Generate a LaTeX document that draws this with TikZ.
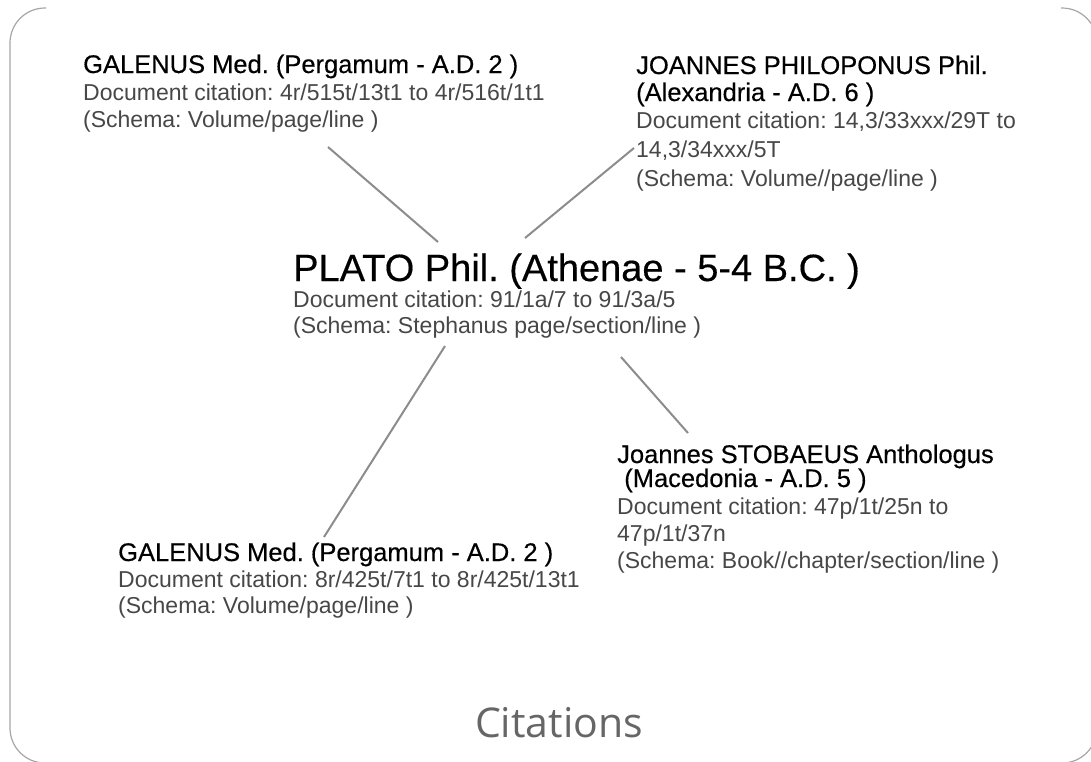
\documentclass[tikz,border=0pt]{standalone}
\usepackage{fontspec}
\setmainfont{Liberation Sans}
\newfontfamily\headfont{Liberation Sans}[FakeBold=0.4]
\newfontfamily\titlefont{Open Sans}
\frenchspacing

\newcommand{\bodysize}{\fontsize{23}{27}\selectfont\lineskiplimit=-100pt}
\newcommand{\headsize}{\headfont\fontsize{25.5}{27}\selectfont\color{black}}
\newcommand{\platosize}{\headfont\fontsize{38}{27}\selectfont\color{black}}

\begin{document}
\begin{tikzpicture}[x=1pt,y=-1pt,
		entry/.style={anchor=base west, align=left, inner sep=0pt, text=black!72, font=\bodysize},
		link/.style={draw=black!45, line width=2pt}]
				\useasboundingbox (0,0) rectangle (1091,761);
				\draw[black!35, line width=1.2pt, rounded corners=35] (46,8) -- (10,8) -- (10,763) -- (1097,763) -- (1097,8) -- (1061,8);

				% base west is the baseline of the last line
				\node[entry] (plato) at (293,333) {{\platosize PLATO Phil. (Athenae - 5-4 B.C. )}\\[-1pt]
					Document citation: 91/1a/7 to 91/3a/5\\[-1pt]
					(Schema: Stephanus page/section/line )};
				\node[entry] (galenA) at ([shift={(-210,-206)}]plato.base west) {{\headsize GALENUS Med. (Pergamum - A.D. 2 )}\\
					Document citation: 4r/515t/13t1 to 4r/516t/1t1\\
					(Schema: Volume/page/line )};
				\node[entry] (philo) at ([shift={(343,-147)}]plato.base west) {{\headsize JOANNES PHILOPONUS Phil.}\\
					{\headsize (Alexandria - A.D. 6 )}\\
					Document citation: 14,3/33xxx/29T to\\[2pt]
					14,3/34xxx/5T\\[2pt]
					(Schema: Volume//page/line )};
				\node[entry] (joann) at ([shift={(324,235)}]plato.base west) {{\headsize Joannes STOBAEUS Anthologus}\\[-3pt]
					{\headsize \ (Macedonia - A.D. 5 )}\\
					Document citation: 47p/1t/25n to\\
					47p/1t/37n\\
					(Schema: Book//chapter/section/line )};
				\node[entry] (galenB) at ([shift={(-175,280)}]plato.base west) {{\headsize GALENUS Med. (Pergamum - A.D. 2 )}\\[-1pt]
					Document citation: 8r/425t/7t1 to 8r/425t/13t1\\[-1pt]
					(Schema: Volume/page/line )};
				\node[anchor=base, inner sep=0pt, text=black!60, font=\titlefont\fontsize{41}{41}\selectfont] (title) at ([shift={(266,404)}]plato.base west) {Citations};

				\draw[link] ([shift={(245,20)}]galenA.base west) -- ([shift={(145,-91)}]plato.base west);
				\draw[link] ([shift={(232,-95)}]plato.base west) -- ([shift={(-2,-38)}]philo.base west);
				\draw[link] ([shift={(152,13)}]plato.base west) -- ([shift={(206,-76)}]galenB.base west);
				\draw[link] ([shift={(328,24)}]plato.base west) -- ([shift={(71,-135)}]joann.base west);
			\end{tikzpicture}
\end{document}
